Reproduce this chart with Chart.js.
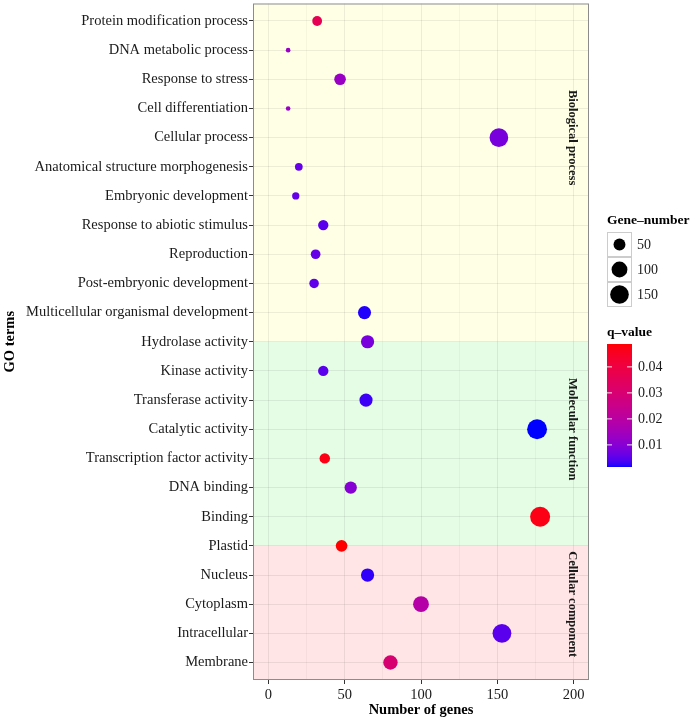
<!DOCTYPE html>
<html>
<head>
<meta charset="utf-8">
<script src="https://cdn.jsdelivr.net/npm/chart.js@4.4.0/dist/chart.umd.min.js"></script>
<style>
  html, body { margin: 0; padding: 0; background: #fff; }
  #wrap { width: 700px; height: 720px; }
</style>
</head>
<body>
<div id="wrap"><canvas id="goChart" width="700" height="720"></canvas></div>
<script>
// GO terms, top to bottom
const goTerms = [
    "Protein modification process", "DNA metabolic process", "Response to stress",
    "Cell differentiation", "Cellular process", "Anatomical structure morphogenesis",
    "Embryonic development", "Response to abiotic stimulus", "Reproduction",
    "Post-embryonic development", "Multicellular organismal development",
    "Hydrolase activity", "Kinase activity", "Transferase activity", "Catalytic activity",
    "Transcription factor activity", "DNA binding", "Binding",
    "Plastid", "Nucleus", "Cytoplasm", "Intracellular", "Membrane"
];
const geneCounts = [32, 13, 47, 13, 151, 20, 18, 36, 31, 30, 63, 65, 36, 64, 176, 37, 54, 178, 48, 65, 100, 153, 80];
const qValues = [0.036, 0.013, 0.013, 0.013, 0.008, 0.006, 0.006, 0.005, 0.006, 0.0055, 0.002,
                 0.008, 0.005, 0.003, 0.0015, 0.047, 0.010, 0.047, 0.0488, 0.0025, 0.019, 0.005, 0.030];

// ontology groups (band edges in row units)
const groupNames = ["Biological process", "Molecular function", "Cellular component"];
const groupEdges = [-0.6, 11, 18, 22.6];
const groupLabelRow = [4, 14, 20];
const groupLabelX = 199;
const groupFill = ["#FFFFE6", "#E5FCE5", "#FFE5E5"];

const xTickValues = [0, 25, 50, 75, 100, 125, 150, 175, 200];
const sizeBreaks = [50, 100, 150];
const qBreaks = [0.01, 0.02, 0.03, 0.04];

const serif = "'Liberation Serif', 'DejaVu Serif', serif";

// size scale (area), like ggplot scale_size
const cMin = Math.min(...geneCounts), cMax = Math.max(...geneCounts);
function bubbleRadius(n) {
    return 2.3 + 7.7 * Math.sqrt(Math.max(0, n - cMin) / (cMax - cMin));
}

// colour scale blue -> red interpolated in Lab
const qMin = Math.min(...qValues), qMax = Math.max(...qValues);
function toLin(c) { c /= 255; return c <= 0.04045 ? c / 12.92 : Math.pow((c + 0.055) / 1.055, 2.4); }
function fromLin(c) {
    c = c <= 0.0031308 ? 12.92 * c : 1.055 * Math.pow(c, 1 / 2.4) - 0.055;
    return Math.round(Math.max(0, Math.min(1, c)) * 255);
}
function rgbToLab(r, g, b) {
    r = toLin(r); g = toLin(g); b = toLin(b);
    let x = (0.4124 * r + 0.3576 * g + 0.1805 * b) / 0.95047;
    let y = (0.2126 * r + 0.7152 * g + 0.0722 * b);
    let z = (0.0193 * r + 0.1192 * g + 0.9505 * b) / 1.08883;
    const f = t => t > 0.008856 ? Math.cbrt(t) : 7.787 * t + 16 / 116;
    x = f(x); y = f(y); z = f(z);
    return [116 * y - 16, 500 * (x - y), 200 * (y - z)];
}
function labToRgb(L, a, b) {
    let y = (L + 16) / 116, x = a / 500 + y, z = y - b / 200;
    const fi = t => t * t * t > 0.008856 ? t * t * t : (t - 16 / 116) / 7.787;
    x = fi(x) * 0.95047; y = fi(y); z = fi(z) * 1.08883;
    const r = 3.2406 * x - 1.5372 * y - 0.4986 * z;
    const g = -0.9689 * x + 1.8758 * y + 0.0415 * z;
    const bb = 0.0557 * x - 0.2040 * y + 1.0570 * z;
    return `rgb(${fromLin(r)},${fromLin(g)},${fromLin(bb)})`;
}
const labLow = rgbToLab(0, 0, 255), labHigh = rgbToLab(255, 0, 0);
function qColor(q) {
    const t = Math.max(0, Math.min(1, (q - qMin) / (qMax - qMin)));
    return labToRgb(labLow[0] + t * (labHigh[0] - labLow[0]),
                    labLow[1] + t * (labHigh[1] - labLow[1]),
                    labLow[2] + t * (labHigh[2] - labLow[2]));
}

const bubbleData = goTerms.map((term, i) => ({ x: geneCounts[i], y: i, r: bubbleRadius(geneCounts[i]) }));

// 🔹 background bands behind the grid
const bandPlugin = {
    id: "bands",
    beforeDraw(chart) {
        const { ctx, chartArea: a, scales: { y } } = chart;
        ctx.save();
        ctx.fillStyle = "#fff";
        ctx.fillRect(0, 0, chart.width, chart.height);
        groupNames.forEach((name, i) => {
            const y0 = y.getPixelForValue(groupEdges[i]);
            const y1 = y.getPixelForValue(groupEdges[i + 1]);
            ctx.fillStyle = groupFill[i];
            ctx.fillRect(a.left, Math.min(y0, y1), a.right - a.left, Math.abs(y1 - y0));
        });
        ctx.restore();
    }
};

// 🔹 frame, group labels and the two legends
const decorPlugin = {
    id: "decor",
    afterDraw(chart) {
        const { ctx, chartArea: a, scales: { x, y } } = chart;
        ctx.save();
        ctx.strokeStyle = "#8c8c8c";
        ctx.lineWidth = 1;
        ctx.strokeRect(a.left + 0.5, a.top + 0.5, a.right - a.left - 1, a.bottom - a.top - 1);

        // vertical group labels
        ctx.fillStyle = "#1a1a1a";
        ctx.font = "bold 12.5px " + serif;
        ctx.textAlign = "center";
        ctx.textBaseline = "middle";
        groupNames.forEach((name, i) => {
            ctx.save();
            ctx.translate(x.getPixelForValue(groupLabelX), y.getPixelForValue(groupLabelRow[i]));
            ctx.rotate(Math.PI / 2);
            ctx.fillText(name, 0, 0);
            ctx.restore();
        });

        // size legend
        const lx = a.right + 18;
        ctx.textAlign = "left";
        ctx.fillStyle = "#000";
        ctx.font = "bold 13.5px " + serif;
        ctx.fillText("Gene\u2013number", lx, 221);
        ctx.font = "14px " + serif;
        sizeBreaks.forEach((v, i) => {
            const top = 232 + i * 25;
            ctx.fillStyle = "#fff";
            ctx.fillRect(lx, top, 25, 25);
            ctx.strokeStyle = "#cccccc";
            ctx.strokeRect(lx + 0.5, top + 0.5, 24, 24);
            ctx.fillStyle = "#000";
            ctx.beginPath();
            ctx.arc(lx + 12.5, top + 12.5, bubbleRadius(v), 0, Math.PI * 2);
            ctx.fill();
            ctx.fillStyle = "#1a1a1a";
            ctx.fillText(String(v), lx + 30, top + 13);
        });

        // colour bar
        ctx.fillStyle = "#000";
        ctx.font = "bold 13.5px " + serif;
        ctx.fillText("q\u2013value", lx, 333);
        const barTop = 344, barBottom = 467, barW = 25;
        for (let py = barTop; py < barBottom; py++) {
            const q = qMax - (py + 0.5 - barTop) / (barBottom - barTop) * (qMax - qMin);
            ctx.fillStyle = qColor(q);
            ctx.fillRect(lx, py, barW, 1);
        }
        ctx.font = "14px " + serif;
        qBreaks.forEach(v => {
            const py = barBottom - (v - qMin) / (qMax - qMin) * (barBottom - barTop);
            ctx.strokeStyle = "rgba(255,255,255,0.9)";
            ctx.beginPath();
            ctx.moveTo(lx, py); ctx.lineTo(lx + 5, py);
            ctx.moveTo(lx + barW - 5, py); ctx.lineTo(lx + barW, py);
            ctx.stroke();
            ctx.fillStyle = "#1a1a1a";
            ctx.fillText(v.toFixed(2), lx + 31, py);
        });
        ctx.restore();
    }
};

new Chart(document.getElementById("goChart").getContext("2d"), {
    type: "bubble",
    data: {
        datasets: [{
            data: bubbleData,
            backgroundColor: qValues.map(qColor),
            borderWidth: 0,
            hoverBorderWidth: 0
        }]
    },
    options: {
        responsive: false,
        animation: false,
        events: [],
        layout: { autoPadding: false, padding: { top: 3.5, right: 111, bottom: 0, left: 0 } },
        plugins: { legend: { display: false }, tooltip: { enabled: false } },
        scales: {
            x: {
                type: "linear",
                min: -10,
                max: 210,
                afterBuildTicks: s => { s.ticks = xTickValues.map(v => ({ value: v })); },
                afterFit: s => { s.height = 40; s.paddingLeft = 0; s.paddingRight = 0; },
                ticks: {
                    autoSkip: false,
                    maxRotation: 0,
                    padding: 2,
                    color: "#1a1a1a",
                    font: { family: serif, size: 14.5 },
                    callback: v => (v % 50 === 0 ? String(v) : "")
                },
                grid: {
                    color: c => (c.tick && c.tick.value % 50 === 0 ? "rgba(0,0,0,0.07)" : "rgba(0,0,0,0.035)"),
                    tickColor: c => (c.tick && c.tick.value % 50 === 0 ? "#333" : "rgba(0,0,0,0)"),
                    tickLength: 4
                },
                border: { display: false },
                title: {
                    display: true,
                    text: "Number of genes",
                    color: "#000",
                    font: { family: serif, size: 14.5, weight: "bold" },
                    padding: { top: 0, bottom: 1 }
                }
            },
            y: {
                type: "linear",
                reverse: true,
                min: -0.6,
                max: 22.6,
                afterBuildTicks: s => { s.ticks = goTerms.map((_, i) => ({ value: i })); },
                afterFit: s => { s.width = 253; s.paddingTop = 0; s.paddingBottom = 0; },
                ticks: {
                    autoSkip: false,
                    padding: 1,
                    color: "#1a1a1a",
                    font: { family: serif, size: 14.5 },
                    callback: v => goTerms[v]
                },
                grid: { color: "rgba(0,0,0,0.07)", tickColor: "#333", tickLength: 4 },
                border: { display: false },
                title: {
                    display: true,
                    text: "GO terms",
                    color: "#000",
                    font: { family: serif, size: 14.5, weight: "bold" },
                    padding: { top: 2, bottom: 0 }
                }
            }
        }
    },
    plugins: [bandPlugin, decorPlugin]
});
</script>
</body>
</html>
